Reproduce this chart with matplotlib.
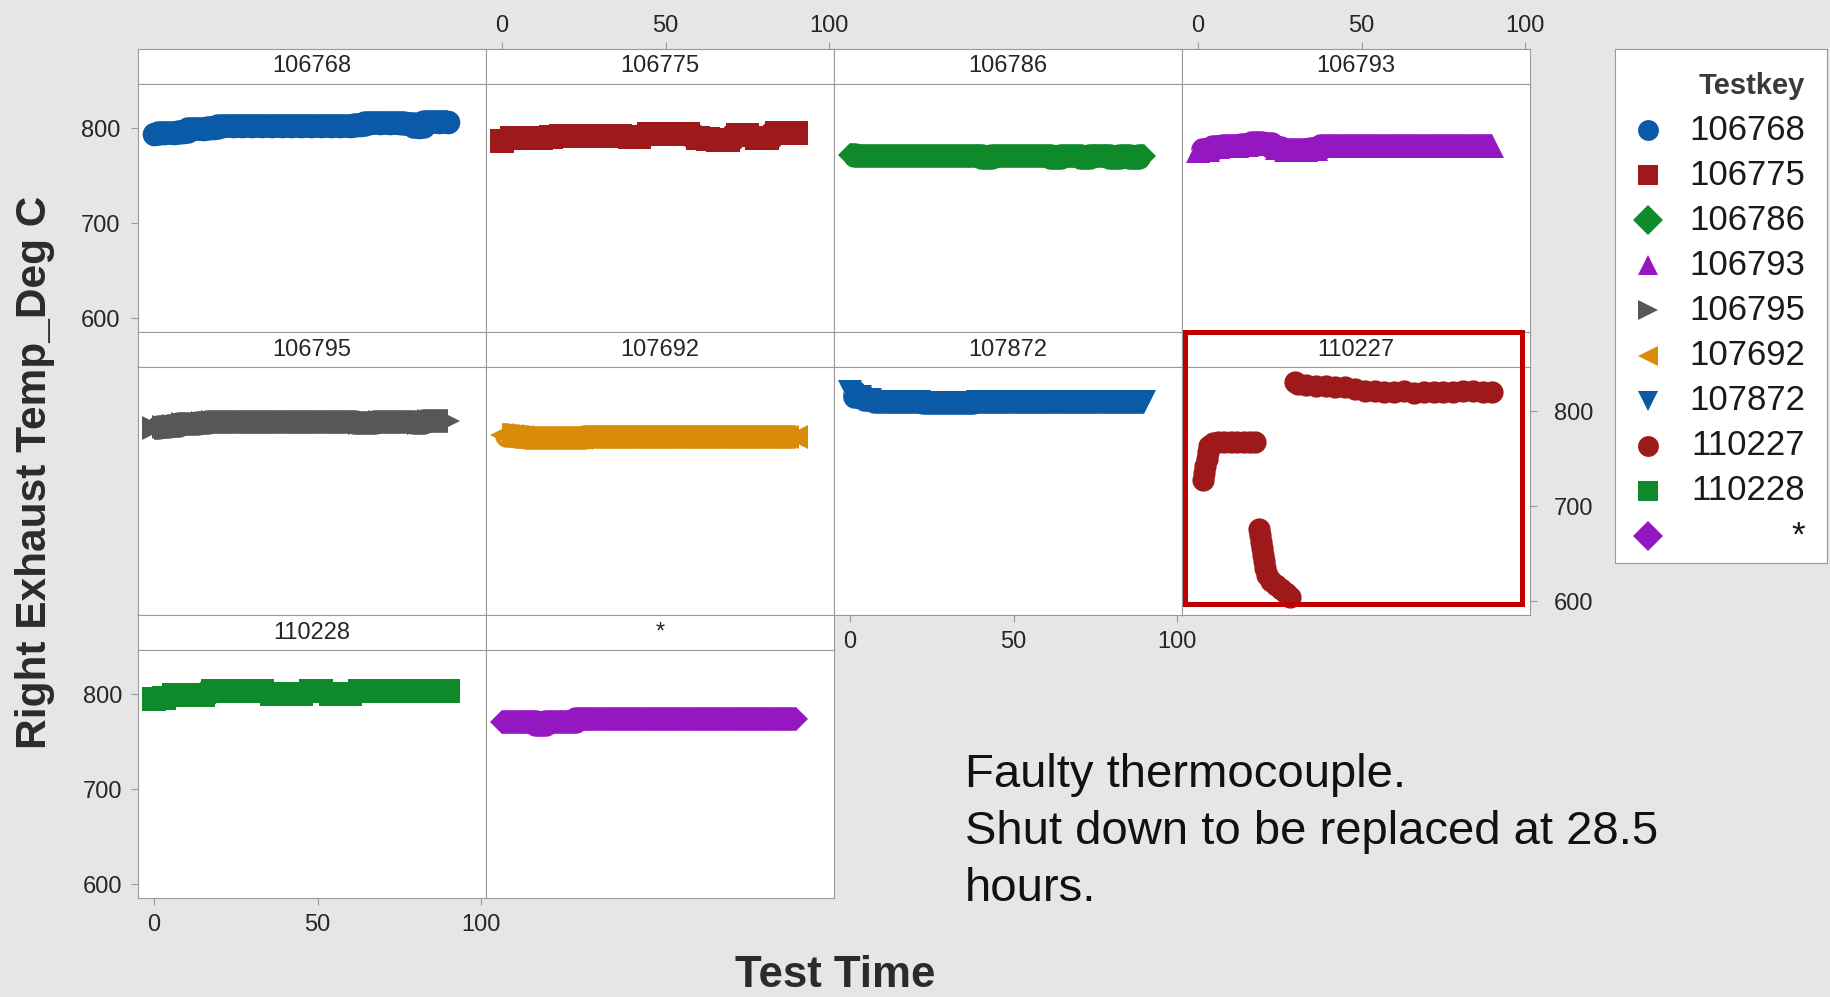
import matplotlib.pyplot as plt
from matplotlib.patches import Rectangle

# test time in hours for the steady runs
hours = [0, 3, 6, 9, 12, 15, 18, 21, 24, 27, 30, 33, 36, 39, 42, 45,
         48, 51, 54, 57, 60, 63, 66, 69, 72, 75, 78, 81, 84, 87, 90]

# right exhaust temperature (deg C) per testkey
temp_106768 = [794, 795, 795, 796, 799, 799, 800, 802, 802, 802, 802, 802, 802, 802, 802, 802,
               802, 802, 802, 802, 802, 803, 805, 805, 805, 805, 804, 801, 806, 806, 806]
temp_106775 = [786, 790, 790, 790, 790, 791, 792, 792, 792, 792, 792, 792, 792, 791, 791, 794,
               794, 794, 794, 794, 790, 789, 788, 788, 793, 793, 790, 790, 795, 795, 795]
temp_106786 = [772, 771, 771, 771, 771, 771, 771, 771, 771, 771, 771, 771, 771, 771, 769, 771,
               771, 771, 771, 771, 771, 769, 771, 771, 769, 771, 771, 769, 771, 769, 771]
temp_106793 = [776, 777, 780, 781, 781, 782, 784, 783, 779, 777, 777, 777, 778, 781, 781, 781,
               781, 781, 781, 781, 781, 781, 781, 781, 781, 781, 781, 781, 781, 781, 781]
temp_106795 = [782, 783, 784, 786, 786, 787, 789, 789, 789, 789, 789, 789, 789, 789, 789, 789,
               789, 789, 789, 789, 789, 788, 787, 789, 789, 789, 789, 788, 790, 790, 790]
temp_107692 = [775, 774, 773, 772, 772, 772, 772, 772, 772, 773, 773, 773, 773, 773, 773, 773,
               773, 773, 773, 773, 773, 773, 773, 773, 773, 773, 773, 773, 773, 773, 773]
temp_107872 = [820, 815, 812, 810, 810, 810, 810, 810, 808, 808, 808, 808, 808, 810, 810, 810,
               810, 810, 810, 810, 810, 810, 810, 810, 810, 810, 810, 810, 810, 810, 810]
temp_110228 = [795, 796, 799, 799, 799, 799, 803, 803, 803, 803, 803, 803, 800, 800, 800, 800,
               803, 803, 800, 800, 800, 803, 803, 803, 803, 803, 803, 803, 803, 803, 803]
temp_missing = [771, 771, 771, 771, 768, 771, 771, 771, 774, 774, 774, 774, 774, 774, 774, 774,
                774, 774, 774, 774, 774, 774, 774, 774, 774, 774, 774, 774, 774, 774, 774]

# 110227: faulty thermocouple, replaced at 28.5 h
hours_110227 = [1.5, 1.8, 2.2, 2.6, 3.0, 3.5, 4.5, 6, 8, 10, 12, 14, 16, 17.5,
                18.5, 18.8, 19.2, 19.6, 20.0, 20.3, 20.6, 21.0, 22.2, 23.8, 25.3, 26.8, 28.2,
                29.5, 30.5, 33, 36, 39, 42, 45, 48, 51, 54, 57, 60, 63, 66, 69, 72, 75, 78,
                81, 84, 87, 90]
temp_110227 = [728, 735, 742, 750, 757, 763, 766, 767, 767, 768, 768, 768, 767, 767,
               676, 670, 663, 656, 649, 642, 635, 628, 622, 617, 613, 609, 605,
               831, 828, 827, 826, 826, 825, 825, 823, 821, 821, 820, 820, 821, 819, 820, 820,
               820, 820, 821, 821, 820, 820]

testkeys = ['106768', '106775', '106786', '106793', '106795',
            '107692', '107872', '110227', '110228', '*']
colors = ['#0b5aa8', '#9e1a1a', '#0e8a2a', '#9417c2', '#575757',
          '#d88c0a', '#0b5aa8', '#9e1a1a', '#0e8a2a', '#9417c2']
markers = ['o', 's', 'D', '^', '>', '<', 'v', 'o', 's', 'D']

data = {
    '106768': (hours, temp_106768),
    '106775': (hours, temp_106775),
    '106786': (hours, temp_106786),
    '106793': (hours, temp_106793),
    '106795': (hours, temp_106795),
    '107692': (hours, temp_107692),
    '107872': (hours, temp_107872),
    '110227': (hours_110227, temp_110227),
    '110228': (hours, temp_110228),
    '*': (hours, temp_missing),
}

plt.rcParams['font.family'] = ['Liberation Sans', 'DejaVu Sans']

W, H = 1831, 997
fig = plt.figure(figsize=(W / 100, H / 100), dpi=100)
fig.patch.set_facecolor('#e6e6e6')


def px_axes(x, y, w, h):
    # axes placed in pixel units measured from the top-left corner
    return fig.add_axes([x / W, 1 - (y + h) / H, w / W, h / H])


edge = '#9a9a9a'
xlim = (-4.9, 101.5)
ylim = (585.8, 846.3)
left0, top0, col_w, strip_h, data_h, row_h = 138, 49, 348, 35, 248, 283
tick_kw = dict(length=5, color=edge, labelsize=17, labelcolor='#262626', pad=8)
band = 17

for i, key in enumerate(testkeys):
    row, col = divmod(i, 4)
    x0 = left0 + col * col_w
    y0 = top0 + row * row_h

    strip = px_axes(x0, y0, col_w, strip_h)
    strip.set_facecolor('white')
    strip.set_xlim(xlim)
    strip.set_yticks([])
    strip.set_xticks([0, 50, 100])
    strip.tick_params(bottom=False, labelbottom=False, top=False, labeltop=False, **tick_kw)
    if row == 0 and col in (1, 3):
        strip.tick_params(top=True, labeltop=True, pad=4)
    strip.text(0.5, 0.5, key, transform=strip.transAxes, ha='center', va='center',
               fontsize=17, color='#262626')
    for s in strip.spines.values():
        s.set_color(edge)

    ax = px_axes(x0, y0 + strip_h, col_w, data_h)
    ax.set_facecolor('white')
    t, v = data[key]
    ms = band * 0.72 if markers[i] == 'D' else band
    if key != '110227':
        # dense readings show up as one solid band
        ax.plot(t, v, drawstyle='steps-mid', linewidth=band, solid_capstyle='butt',
                color=colors[i])
    else:
        ms = 16
    ax.plot(t, v, linestyle='none', marker=markers[i], markersize=ms,
            color=colors[i], markeredgewidth=0)
    ax.set_xlim(xlim)
    ax.set_ylim(ylim)
    ax.set_xticks([0, 50, 100])
    ax.set_yticks([600, 700, 800])
    ax.tick_params(left=False, labelleft=False, bottom=False, labelbottom=False,
                   right=False, labelright=False, **tick_kw)
    if col == 0 and row in (0, 2):
        ax.tick_params(left=True, labelleft=True)
    if col == 3 and row == 1:
        ax.tick_params(right=True, labelright=True, pad=12)
    if (col == 0 and row == 2) or (col == 2 and row == 1):
        ax.tick_params(bottom=True, labelbottom=True, pad=6.5)
    for s in ax.spines.values():
        s.set_color(edge)

# highlight box round the faulty run
fig.add_artist(Rectangle((1185 / W, 1 - 604 / H), (1522 - 1185) / W, (604 - 332) / H,
                         transform=fig.transFigure, fill=False, edgecolor='#c00000',
                         linewidth=3.6, zorder=10))

fig.text(965 / W, 1 - 832 / H,
         'Faulty thermocouple.\nShut down to be replaced at 28.5\nhours.',
         ha='left', va='center', fontsize=34, color='#111111', linespacing=1.39)

fig.text(35 / W, 1 - 472 / H, 'Right Exhaust Temp_Deg C', rotation=90,
         ha='center', va='center', fontsize=30.5, fontweight='bold', color='#2b2b2b')
fig.text(835 / W, 1 - 975 / H, 'Test Time', ha='center', va='center',
         fontsize=31.5, fontweight='bold', color='#2b2b2b')

# legend box drawn in pixel units
leg = px_axes(1615, 49, 212, 514)
leg.set_xlim(0, 212)
leg.set_ylim(514, 0)
leg.set_xticks([])
leg.set_yticks([])
leg.set_facecolor('white')
for s in leg.spines.values():
    s.set_color(edge)
leg.text(190, 37, 'Testkey', ha='right', va='center', fontsize=21,
         fontweight='bold', color='#3a3a3a')
for i, key in enumerate(testkeys):
    y = 81 + i * 45.1
    leg.plot([33], [y], linestyle='none', marker=markers[i], markersize=15,
             color=colors[i], markeredgewidth=0)
    leg.text(190, y, key, ha='right', va='center', fontsize=25, color='#1a1a1a')

fig.savefig('out.png', dpi=100, facecolor=fig.get_facecolor())
